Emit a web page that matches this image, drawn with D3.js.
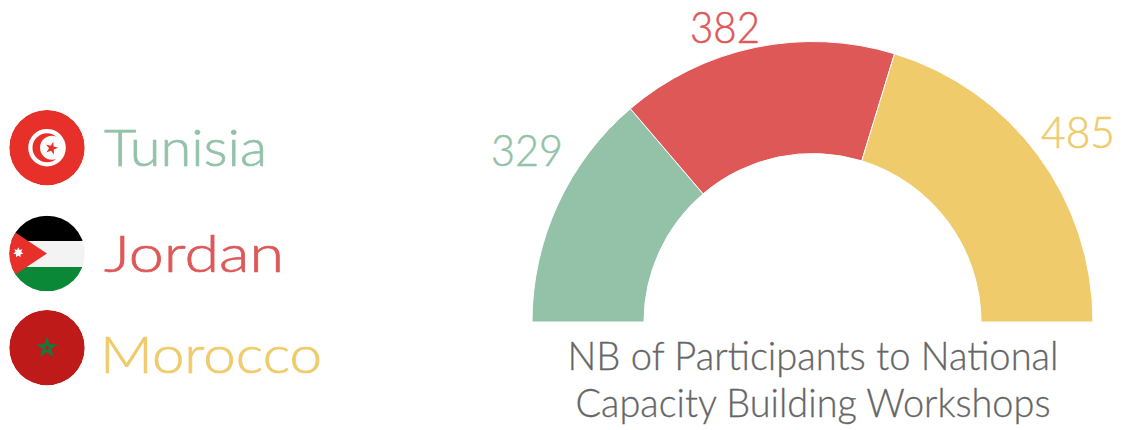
<!DOCTYPE html>
<html>
<head>
<meta charset="utf-8">
<script src="https://cdn.jsdelivr.net/npm/d3@7"></script>
<style>
  body { margin: 0; background: #fff; }
  svg { display: block; }
  text { font-family: "Lato", sans-serif; font-weight: 300; }
</style>
</head>
<body>
<script>
const countries = ["Tunisia", "Jordan", "Morocco"];
const participants = [329, 382, 485];
const colours = ["#93c2a9", "#de5858", "#efcb6b"];
const titleLines = ["NB of Participants to National", "Capacity Building Workshops"];

const width = 1122;
const height = 430;

const svg = d3.select("body").append("svg").attr("width", width).attr("height", height);

// half donut
const gauge = svg.append("g").attr("transform", "translate(812.5 322)");

const pie = d3.pie().sort(null).startAngle(-Math.PI / 2).endAngle(Math.PI / 2);
const arc = d3.arc().innerRadius(168.5).outerRadius(280.5);

gauge
  .selectAll("path")
  .data(pie(participants))
  .join("path")
  .attr("d", arc)
  .attr("fill", (d, i) => colours[i])
  .attr("stroke", "#fff")
  .attr("stroke-width", 1);

// value labels sit by hand around the arc, like the original
const labelX = d3.scaleOrdinal().domain(countries).range([-285.5, -87.5, 265.5]);
const labelY = d3.scaleOrdinal().domain(countries).range([-156, -279, -174]);
const labelLength = d3.scaleOrdinal().domain(countries).range([72, 70, 74]);

gauge
  .selectAll("text")
  .data(participants)
  .join("text")
  .attr("x", (d, i) => labelX(countries[i]))
  .attr("y", (d, i) => labelY(countries[i]))
  .attr("font-size", 44)
  .attr("text-anchor", "middle")
  .attr("textLength", (d, i) => labelLength(countries[i]))
  .attr("lengthAdjust", "spacingAndGlyphs")
  .attr("fill", (d, i) => colours[i])
  .attr("stroke", (d, i) => colours[i])
  .attr("stroke-width", 0.5)
  .text((d) => d);

// title
const titleWidths = [491, 475];
svg
  .append("g")
  .selectAll("text")
  .data(titleLines)
  .join("text")
  .attr("x", 813)
  .attr("y", (d, i) => 370 + i * 47)
  .attr("font-size", 39)
  .attr("text-anchor", "middle")
  .attr("textLength", (d, i) => titleWidths[i])
  .attr("lengthAdjust", "spacingAndGlyphs")
  .attr("fill", "#666")
  .attr("stroke", "#666")
  .attr("stroke-width", 0.3)
  .text((d) => d);

// legend
const rowY = d3.scaleOrdinal().domain(countries).range([147.7, 253.5, 347.7]);
const nameY = d3.scaleOrdinal().domain(countries).range([166, 272, 373]);
const nameX = d3.scaleOrdinal().domain(countries).range([104, 104, 100]);
const nameLength = d3.scaleOrdinal().domain(countries).range([163, 180, 222]);
const flagR = 37.8;

svg
  .append("g")
  .selectAll("text")
  .data(countries)
  .join("text")
  .attr("x", (d) => nameX(d))
  .attr("y", (d) => nameY(d))
  .attr("font-size", 52)
  .attr("textLength", (d) => nameLength(d))
  .attr("lengthAdjust", "spacingAndGlyphs")
  .attr("fill", (d, i) => colours[i])
  .attr("stroke", (d, i) => colours[i])
  .attr("stroke-width", 0.7)
  .text((d) => d);

const legend = svg
  .append("g")
  .selectAll("g")
  .data(countries)
  .join("g")
  .attr("transform", (d) => `translate(47 ${rowY(d)})`);

const defs = svg.append("defs");
defs.append("clipPath").attr("id", "flag-clip").append("circle").attr("r", flagR);

const star = (size) => d3.symbol().type(d3.symbolStar).size(size)();

const flags = legend.append("g").attr("clip-path", "url(#flag-clip)");

// Tunisia
const tunisia = flags.filter((d) => d === "Tunisia");
tunisia.append("circle").attr("r", flagR).attr("fill", "#e8302a");
tunisia.append("circle").attr("r", 18.8).attr("fill", "#fff");
tunisia.append("circle").attr("r", 14.5).attr("fill", "#e8302a");
tunisia.append("circle").attr("cx", 5).attr("r", 12).attr("fill", "#fff");
tunisia
  .append("path")
  .attr("d", star(50))
  .attr("transform", "translate(4.6 0.5) rotate(15)")
  .attr("fill", "#e8302a");

// Jordan
const jordan = flags.filter((d) => d === "Jordan");
jordan.append("rect").attr("x", -flagR).attr("y", -flagR).attr("width", flagR * 2).attr("height", flagR - 12.5).attr("fill", "#000");
jordan.append("rect").attr("x", -flagR).attr("y", -12.5).attr("width", flagR * 2).attr("height", 26).attr("fill", "#f3f3f3");
jordan.append("rect").attr("x", -flagR).attr("y", 13.5).attr("width", flagR * 2).attr("height", flagR - 13.5).attr("fill", "#0a8737");
jordan.append("path").attr("d", "M-40,-26.5L0,0L-40,26.5Z").attr("fill", "#e8302a");

// seven pointed star of the Jordan flag
const jordanStar = d3.lineRadial().curve(d3.curveLinearClosed)(
  d3.range(14).map((i) => [(i * Math.PI) / 7, i % 2 ? 2.9 : 5.2])
);
jordan.append("path").attr("d", jordanStar).attr("transform", "translate(-28.7 -1)").attr("fill", "#fff");

// Morocco
const morocco = flags.filter((d) => d === "Morocco");
morocco.append("circle").attr("r", flagR).attr("fill", "#bf1a1a");
morocco.append("path").attr("d", star(150)).attr("fill", "#137a3c");
morocco.append("circle").attr("r", 2).attr("fill", "#bf1a1a");
</script>
</body>
</html>
